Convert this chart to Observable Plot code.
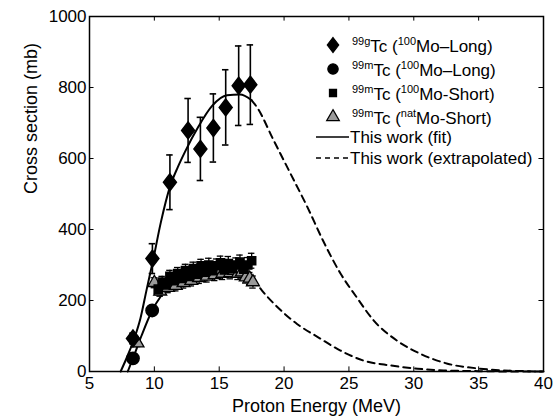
<!DOCTYPE html>
<html>
<head>
<meta charset="utf-8">
<script src="https://cdn.jsdelivr.net/npm/d3@7"></script>
<script src="https://cdn.jsdelivr.net/npm/@observablehq/plot@0.6"></script>
<style>
  html, body { margin: 0; padding: 0; background: #fff; }
  svg { display: block; }
</style>
</head>
<body>
<div id="chart"></div>
<script>
// ---- data ----
const xTicks = [5, 10, 15, 20, 25, 30, 35, 40];
const yTicks = [0, 200, 400, 600, 800, 1000];

// 99gTc (100Mo-Long) diamonds
const diamondE = [8.35, 9.85, 11.2, 12.6, 13.55, 14.55, 15.5, 16.5, 17.4];
const diamondV = [93, 318, 533, 679, 627, 686, 744, 805, 808];
const diamondErr = [15, 42, 77, 90, 89, 96, 106, 112, 112];

// 99mTc (100Mo-Long) circles
const circleE = [8.35, 9.83];
const circleV = [37, 172];
const circleErr = [8, 12];

// 99mTc (100Mo-Short) squares
const squareE = [10.3, 10.6, 10.9, 11.2, 11.5, 11.8, 12.1, 12.4, 12.7, 13.0, 13.3, 13.6, 13.9, 14.2, 14.5, 14.8, 15.1, 15.4, 15.7, 16.0, 16.3, 16.6, 16.9, 17.2, 17.5];
const squareV = [232, 252, 244, 268, 256, 276, 262, 284, 268, 290, 274, 298, 280, 300, 284, 298, 306, 286, 304, 290, 300, 308, 288, 300, 312];
const squareErr = [16, 16, 16, 17, 17, 17, 17, 18, 18, 18, 18, 18, 18, 19, 19, 19, 19, 19, 20, 20, 20, 20, 20, 21, 21];

// 99mTc (natMo-Short) triangles
const triE = [8.7, 10.0, 10.45, 10.75, 11.05, 11.35, 11.65, 11.95, 12.25, 12.55, 12.85, 13.15, 13.45, 13.75, 14.05, 14.35, 14.65, 14.95, 15.25, 15.55, 15.85, 16.15, 16.45, 16.75, 17.05, 17.35, 17.6];
const triV = [80, 250, 226, 240, 236, 250, 242, 258, 250, 266, 256, 272, 264, 280, 268, 284, 272, 286, 276, 290, 278, 284, 276, 280, 266, 262, 252];
const triErr = [10, 14, 14, 14, 14, 15, 15, 15, 15, 15, 15, 16, 16, 16, 16, 16, 16, 17, 17, 17, 17, 17, 17, 17, 17, 17, 17];

// fits (solid) and extrapolations (dashed)
const fitUpperE = [7.4, 8.0, 8.5, 8.93, 9.4, 9.9, 10.5, 11.2, 11.8, 12.35, 13.4, 14.45, 15.6, 16.6, 17.5];
const fitUpperV = [0, 50, 98, 150, 230, 313, 420, 520, 575, 618, 690, 748, 778, 780, 764];
const extUpperE = [17.5, 17.9, 19.2, 20.5, 21.8, 23.0, 24.35, 25.6, 26.9, 28.7, 30.5, 32.6, 35.1, 38.5, 40];
const extUpperV = [764, 745, 651, 557, 463, 369, 276, 209, 144, 87, 50, 22, 8, 1, 0];
const fitLowerE = [7.95, 8.35, 9.0, 9.83, 10.5, 11.0, 11.5, 12.0, 13.0, 14.0, 15.0, 16.0, 17.0, 17.6];
const fitLowerV = [0, 37, 100, 172, 212, 235, 252, 264, 278, 285, 288, 285, 274, 262];
const extLowerE = [17.6, 18.3, 19.5, 21.0, 22.6, 24.35, 26.1, 28.2, 30.3, 32.3, 35, 38, 40];
const extLowerV = [262, 228, 181, 134, 97, 59, 31, 17, 8, 3, 1, 0, 0];

const xLabel = "Proton Energy (MeV)";
const yLabel = "Cross section (mb)";

// ---- build tables ----
const pts = (E, V, Err) => E.map((e, i) => ({e, v: V[i], lo: V[i] - Err[i], hi: V[i] + Err[i]}));
const diamonds = pts(diamondE, diamondV, diamondErr);
const circles = pts(circleE, circleV, circleErr);
const squares = pts(squareE, squareV, squareErr);
const tris = pts(triE, triV, triErr);
const curve = (E, V) => E.map((e, i) => ({e, v: V[i]}));

// tall diamond (height 1.3 x width), area = size
const tallDiamond = {
  draw(context, size) {
    const w = Math.sqrt(size / 2.6), h = 1.3 * w;
    context.moveTo(0, -h);
    context.lineTo(w, 0);
    context.lineTo(0, h);
    context.lineTo(-w, 0);
    context.closePath();
  }
};

const capW = 0.25;
const errMarks = (d, w = 1.3) => [
  Plot.ruleX(d, {x: "e", y1: "lo", y2: "hi", stroke: "black", strokeWidth: w}),
  Plot.ruleY(d, {y: "hi", x1: (p) => p.e - capW, x2: (p) => p.e + capW, stroke: "black", strokeWidth: w}),
  Plot.ruleY(d, {y: "lo", x1: (p) => p.e - capW, x2: (p) => p.e + capW, stroke: "black", strokeWidth: w})
];

const font = "'Liberation Sans', Arial, Helvetica, sans-serif";

const chart = Plot.plot({
  width: 557,
  height: 419,
  marginLeft: 89,
  marginRight: 14,
  marginTop: 16,
  marginBottom: 48,
  style: {fontFamily: font, fontSize: "17px", background: "white", color: "black"},
  x: {domain: [5, 40], ticks: xTicks},
  y: {domain: [0, 1000], ticks: yTicks},
  marks: [
    // inward ticks on all four sides
    Plot.ruleX(xTicks, {x: (d) => d, y1: 0, y2: 13, stroke: "black", strokeWidth: 1}),
    Plot.ruleX(xTicks, {x: (d) => d, y1: 987, y2: 1000, stroke: "black", strokeWidth: 1}),
    Plot.ruleY(yTicks, {y: (d) => d, x1: 5, x2: 5.35, stroke: "black", strokeWidth: 1}),
    Plot.ruleY(yTicks, {y: (d) => d, x1: 39.65, x2: 40, stroke: "black", strokeWidth: 1}),
    Plot.axisX({ticks: xTicks, tickSize: 0, tickPadding: 5, label: null, fontSize: 17, tickFormat: (d) => String(d)}),
    Plot.axisY({ticks: yTicks, tickSize: 0, tickPadding: 3, label: null, fontSize: 17, tickFormat: (d) => String(d)}),
    Plot.text([xLabel], {text: (d) => d, frameAnchor: "bottom", dy: 40, fontSize: 18, fill: "black"}),
    Plot.text([yLabel], {text: (d) => d, frameAnchor: "left", dx: -58, rotate: -90, fontSize: 18, fill: "black"}),
    // curves
    Plot.line(curve(fitUpperE, fitUpperV), {x: "e", y: "v", stroke: "black", strokeWidth: 2, curve: "monotone-x"}),
    Plot.line(curve(extUpperE, extUpperV), {x: "e", y: "v", stroke: "black", strokeWidth: 2, strokeDasharray: "7,5", curve: "monotone-x"}),
    Plot.line(curve(fitLowerE, fitLowerV), {x: "e", y: "v", stroke: "black", strokeWidth: 2, curve: "monotone-x"}),
    Plot.line(curve(extLowerE, extLowerV), {x: "e", y: "v", stroke: "black", strokeWidth: 2, strokeDasharray: "7,5", curve: "monotone-x"}),
    // error bars
    ...errMarks(tris, 1.3),
    ...errMarks(squares, 1.3),
    ...errMarks(circles, 1.4),
    ...errMarks(diamonds, 1.6),
    // markers
    Plot.dot(tris, {x: "e", y: "v", symbol: "triangle", r: 4.8, fill: "#9a9a9a", stroke: "black", strokeWidth: 1.3}),
    Plot.dot(squares, {x: "e", y: "v", symbol: "square", r: 4.6, fill: "black", stroke: "black"}),
    Plot.dot(circles, {x: "e", y: "v", symbol: "circle", r: 6.2, fill: "black", stroke: "black"}),
    Plot.dot(diamonds, {x: "e", y: "v", symbol: tallDiamond, r: 5.9, fill: "black", stroke: "black"}),
    Plot.frame({stroke: "black", strokeWidth: 1.5})
  ]
});

document.getElementById("chart").appendChild(chart);

// ---- legend (inside the plot, upper right) ----
const svg = d3.select(chart);
const lg = svg.append("g").attr("font-family", font).attr("fill", "black").attr("text-anchor", "start");
const entries = [
  {sym: "diamond", sup1: "99g", sup2: "100", rest: "Mo\u2013Long)"},
  {sym: "circle", sup1: "99m", sup2: "100", rest: "Mo\u2013Long)"},
  {sym: "square", sup1: "99m", sup2: "100", rest: "Mo-Short)"},
  {sym: "triangle", sup1: "99m", sup2: "nat", rest: "Mo-Short)"}
];
const sx = 333, tx = 352, y0 = 45, dyRow = 24;
entries.forEach((en, i) => {
  const y = y0 + i * dyRow;
  let path, fill = "black";
  if (en.sym === "diamond") path = d3.symbol(tallDiamond, 85)();
  if (en.sym === "circle") path = d3.symbol(d3.symbolCircle, 85)();
  if (en.sym === "square") path = d3.symbol(d3.symbolSquare, 50)();
  if (en.sym === "triangle") { path = d3.symbol(d3.symbolTriangle, 70)(); fill = "#9a9a9a"; }
  lg.append("path").attr("d", path).attr("transform", `translate(${sx},${y})`)
    .attr("fill", fill).attr("stroke", "black").attr("stroke-width", 1.2);
  const t = lg.append("text").attr("x", tx).attr("y", y + 7).attr("font-size", 17).attr("fill", "black");
  t.append("tspan").attr("fill", "black").attr("font-size", 11).attr("dy", -7).text(en.sup1);
  t.append("tspan").attr("fill", "black").attr("font-size", 17).attr("dy", 7).text("Tc (");
  t.append("tspan").attr("fill", "black").attr("font-size", 11).attr("dy", -7).text(en.sup2);
  t.append("tspan").attr("fill", "black").attr("font-size", 17).attr("dy", 7).text(en.rest);
});
const lineRows = [
  {y: 137, dash: null, label: "This work (fit)"},
  {y: 158, dash: "5,4", label: "This work (extrapolated)"}
];
lineRows.forEach((r) => {
  const ln = lg.append("line").attr("x1", 316).attr("x2", 349).attr("y1", r.y).attr("y2", r.y)
    .attr("stroke", "black").attr("stroke-width", 1.6);
  if (r.dash) ln.attr("stroke-dasharray", r.dash);
  lg.append("text").attr("x", 350).attr("y", r.y + 6).attr("font-size", 17).attr("fill", "black").text(r.label);
});
</script>
</body>
</html>
